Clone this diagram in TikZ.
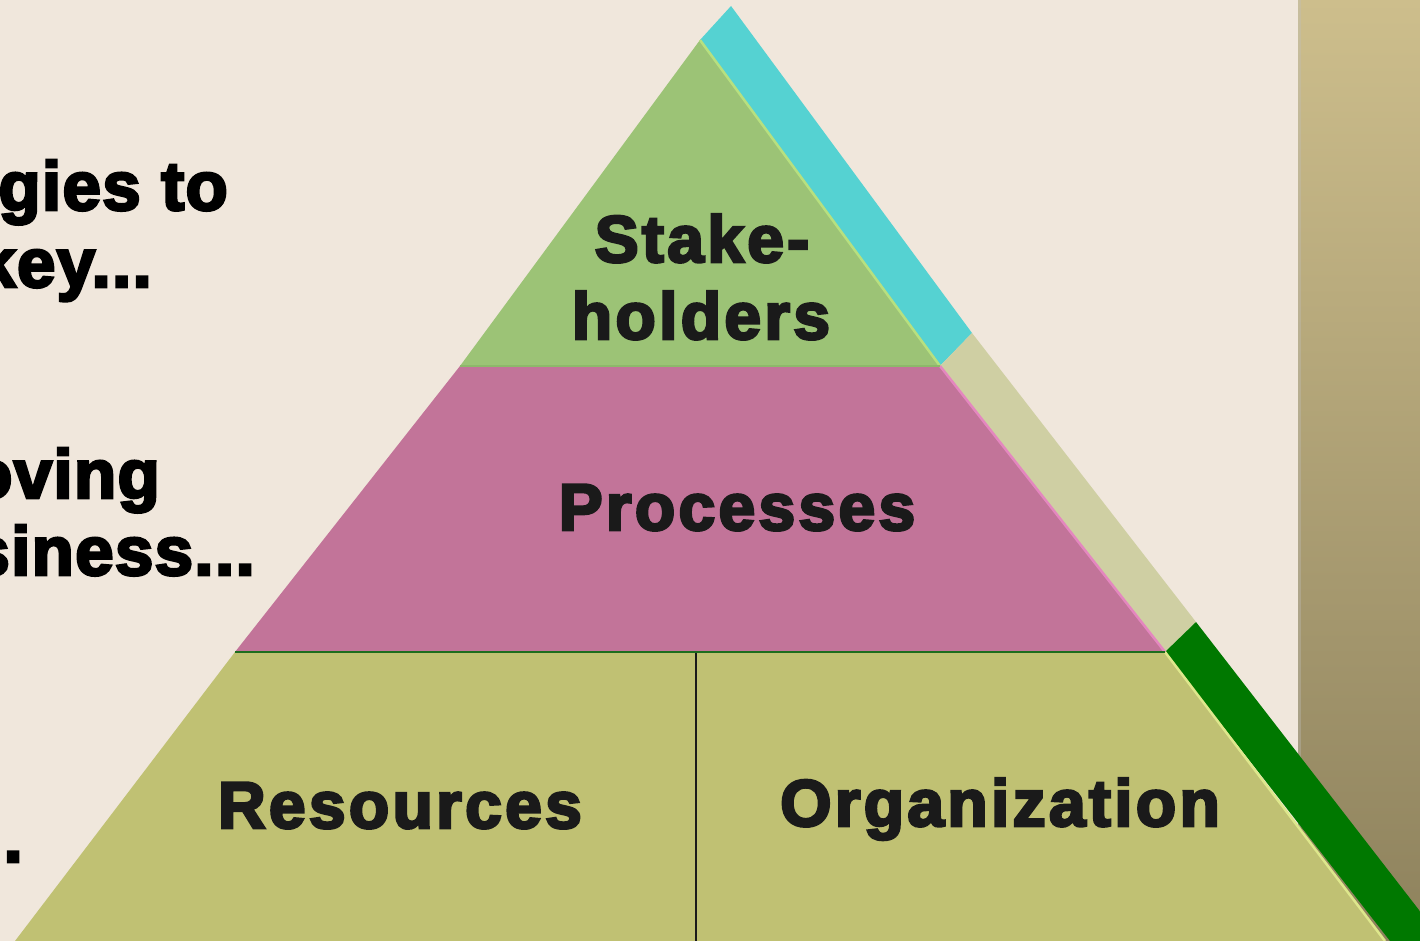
\documentclass[tikz,border=0pt]{standalone}
\usepackage{fontspec}
\newfontfamily\heavy[FakeBold=4, LetterSpace=5]{Liberation Sans Bold}
\newfontfamily\heavyside[FakeBold=4, LetterSpace=2]{Liberation Sans Bold}
\definecolor{paper}{HTML}{F0E7DC}
\definecolor{wallTop}{HTML}{CDBE8C}
\definecolor{wallBot}{HTML}{8E825D}
\definecolor{tierTop}{HTML}{9CC376}
\definecolor{tierMid}{HTML}{C27499}
\definecolor{tierBot}{HTML}{C0C173}
\definecolor{edgeTop}{HTML}{B7E07F}
\definecolor{edgeMid}{HTML}{E487BF}
\definecolor{edgeBot}{HTML}{DEE78C}
\definecolor{seamTop}{HTML}{8DB86A}
\definecolor{seamMid}{HTML}{1E6C1E}
\definecolor{barCyan}{HTML}{55D2D2}
\definecolor{barTan}{HTML}{CFCFA3}
\definecolor{barGreen}{HTML}{007800}
\definecolor{ink}{HTML}{1A1A1A}
\tikzset{
  label/.style={font=\heavy\fontsize{66}{76}\selectfont, text=ink, inner sep=0pt, anchor=base},
  side/.style={font=\heavyside\fontsize{69}{78}\selectfont, text=black, inner sep=0pt, anchor=base east},
  edge line/.style={line width=2.5pt, draw=#1},
}
\begin{document}
\begin{tikzpicture}[x=1pt,y=-1pt]
\useasboundingbox (0,0) rectangle (1420,941);
% paper and wall
\fill[paper] (0,0) rectangle (1420,941);
\shade[top color=wallTop, bottom color=wallBot] (1298,0) rectangle (1420,941);
\fill[black!25, opacity=.35] (1298,0) rectangle (1301,941);

% corner points of the tiers
\coordinate (apex) at (700,40);
\coordinate (tl) at (460,366);
\coordinate (tr) at (940,366);
\coordinate (ml) at (235,652);
\coordinate (mr) at (1165,652);
\coordinate (bl) at (15,941);
\coordinate (br) at (1385,941);

% coloured bars along the right side
\fill[barCyan] (apex) -- (731,6) -- (972,333) -- (tr) -- cycle;
\fill[barTan] (tr) -- (972,333) -- (1196,622) -- (mr) -- cycle;
\fill[barGreen] (mr) -- (1196,622) -- (1419,910) -- (1420,912) -- (1420,941) -- (1390,941) -- cycle;

% tiers
\fill[tierTop] (apex) -- (tr) -- (tl) -- cycle;
\fill[tierMid] (tl) -- (tr) -- (mr) -- (ml) -- cycle;
\fill[tierBot] (ml) -- (mr) -- (br) -- (bl) -- cycle;

% highlighted right edges
\draw[edge line=edgeTop] (apex) -- (tr);
\draw[edge line=edgeMid] (tr) -- (mr);
\draw[edge line=edgeBot] (mr) -- (br);
\draw[line width=1.2pt, draw=seamTop] (tl) -- (tr);

% divider lines
\draw[line width=2.5pt, draw=seamMid] (ml) -- (mr);
\coordinate (dtop) at (696,653);
\coordinate (dbot) at (696,941);
\draw[line width=2pt, draw=ink] (dtop) -- (dbot);

% tier labels
\node[label] (stake) at (702,262) {Stake-};
\node[label] (holders) at (701,339) {holders};
\node[label] (proc) at (737,530) {Processes};
\node[label] (res) at (400,828) {Resources};
\node[label] (org) at (1000,826) {Organization};

% text on the left, running in from the page edge
\node[side] (l1) at (228,210) {gies to};
\node[side] (l2) at (152,287) {key...};
\node[side] (l3) at (160,498) {oving};
\node[side] (l4) at (255,575) {siness...};
\node[side] (l5) at (23,862) {...};
\end{tikzpicture}
\end{document}
